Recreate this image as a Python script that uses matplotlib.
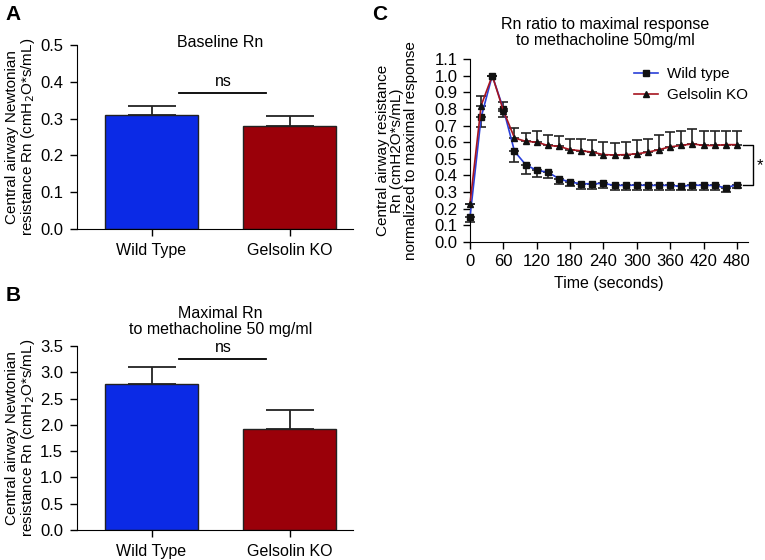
# 気道抵抗の比較図 (A: baseline, B: maximal, C: time course)

import matplotlib.pyplot as plt
import numpy as np

plt.rcParams['font.family'] = ['Liberation Sans', 'DejaVu Sans']
plt.rcParams['font.size'] = 11

groups = ["Wild Type", "Gelsolin KO"]
bar_colors = ["#0b2ae6", "#9a0009"]

# A: baseline Rn
baseline_mean = [0.31, 0.28]
baseline_sem = [0.023, 0.026]

# B: maximal Rn
maximal_mean = [2.77, 1.92]
maximal_sem = [0.33, 0.36]

# C: time course
time_s = [0, 20, 40, 60, 80, 100, 120, 140, 160, 180, 200, 220, 240,
          260, 280, 300, 320, 340, 360, 380, 400, 420, 440, 460, 480]
wt_ratio = [0.15, 0.75, 1.0, 0.80, 0.545, 0.465, 0.43, 0.42, 0.38, 0.36, 0.35, 0.35, 0.352,
            0.34, 0.34, 0.342, 0.34, 0.34, 0.34, 0.335, 0.342, 0.34, 0.34, 0.325, 0.345]
wt_err = [0.03, 0.06, 0.0, 0.05, 0.065, 0.055, 0.04, 0.035, 0.03, 0.025, 0.03, 0.03, 0.03,
          0.025, 0.025, 0.03, 0.03, 0.025, 0.025, 0.025, 0.03, 0.03, 0.025, 0.025, 0.02]
ko_ratio = [0.23, 0.82, 1.0, 0.79, 0.625, 0.605, 0.60, 0.58, 0.575, 0.555, 0.548, 0.54, 0.525,
            0.523, 0.525, 0.53, 0.54, 0.555, 0.572, 0.58, 0.59, 0.58, 0.58, 0.585, 0.585]
ko_err = [0.0, 0.06, 0.0, 0.05, 0.06, 0.05, 0.065, 0.065, 0.06, 0.065, 0.07, 0.075, 0.075,
          0.072, 0.075, 0.08, 0.08, 0.085, 0.09, 0.09, 0.088, 0.088, 0.09, 0.085, 0.08]

rn_label = "Central airway Newtonian\nresistance Rn (cmH$_2$O*s/mL)"


def bar_panel(ax, means, sems, ymax, ystep, ns_y, ns_text_y):
    x = np.arange(len(groups))
    ax.bar(x, means, width=0.67, color=bar_colors, edgecolor="#222222", linewidth=1.0, zorder=2)
    ax.errorbar(x, means, yerr=[np.zeros(len(sems)), sems], fmt="none", ecolor="#222222",
                elinewidth=1.3, capsize=17, capthick=1.3, zorder=1)
    ax.set_xlim(-0.54, 1.46)
    ax.set_ylim(0, ymax)
    ticks = np.arange(0, ymax + ystep / 2, ystep)
    ax.set_yticks(ticks)
    ax.set_yticklabels([f"{v:.1f}" for v in ticks], fontsize=12)
    ax.set_xticks(x)
    ax.set_xticklabels(groups, fontsize=11.5)
    for s in ["top", "right"]:
        ax.spines[s].set_visible(False)
    ax.tick_params(direction="out", length=5, width=1, pad=5)
    ax.plot([0.2, 0.83], [ns_y, ns_y], color="black", lw=1.3, clip_on=False)
    ax.text(0.52, ns_text_y, "ns", ha="center", va="center", fontsize=11.5)
    ax.set_ylabel(rn_label, fontsize=11, linespacing=1.0)
    ax.yaxis.set_label_coords(-0.145, 0.5)


fig = plt.figure(figsize=(7.65, 5.6), dpi=100)

axA = fig.add_axes([0.1007, 0.5911, 0.3608, 0.3286])
bar_panel(axA, baseline_mean, baseline_sem, 0.5, 0.1, 0.37, 0.402)
axA.text(0.52, 1.016, "Baseline Rn", transform=axA.transAxes, ha="center", va="center", fontsize=11.5)

axB = fig.add_axes([0.1007, 0.0536, 0.3608, 0.3286])
bar_panel(axB, maximal_mean, maximal_sem, 3.5, 0.5, 3.25, 3.48)
axB.text(0.52, 1.133, "Maximal Rn\nto methacholine 50 mg/ml", transform=axB.transAxes,
         ha="center", va="center", fontsize=11.5, linespacing=1.05)

# C
axC = fig.add_axes([0.6144, 0.5679, 0.3634, 0.3268])
axC.errorbar(time_s, wt_ratio, yerr=[wt_err, np.zeros(len(wt_err))], fmt="none",
             ecolor="#222222", elinewidth=1.2, capsize=3.5, capthick=1.2, clip_on=False)
axC.errorbar(time_s, ko_ratio, yerr=[np.zeros(len(ko_err)), ko_err], fmt="none",
             ecolor="#222222", elinewidth=1.2, capsize=3.5, capthick=1.2, clip_on=False)
axC.plot(time_s, wt_ratio, color="#2a3fd8", lw=1.2, marker="s", ms=4,
         mfc="#111111", mec="#111111", label="Wild type", clip_on=False, zorder=3)
axC.plot(time_s, ko_ratio, color="#a5141f", lw=1.2, marker="^", ms=4.5,
         mfc="#111111", mec="#111111", label="Gelsolin KO", clip_on=False, zorder=3)
axC.set_xlim(0, 500)
axC.set_ylim(0, 1.1)
axC.set_xticks(np.arange(0, 481, 60))
yt = np.arange(0, 1.11, 0.1)
axC.set_yticks(yt)
axC.set_yticklabels([f"{v:.1f}" for v in yt])
for s in ["top", "right"]:
    axC.spines[s].set_visible(False)
axC.tick_params(direction="out", length=5, width=1, pad=4, labelsize=12)
axC.set_xlabel("Time (seconds)", fontsize=11.5)
axC.xaxis.set_label_coords(0.5, -0.186)
axC.set_ylabel("Central airway resistance\nRn (cmH2O*s/mL)\nnormalized to maximal response",
               fontsize=11, linespacing=1.0)
axC.yaxis.set_label_coords(-0.188, 0.5)
axC.text(0.487, 1.145, "Rn ratio to maximal response\nto methacholine 50mg/ml",
         transform=axC.transAxes, ha="center", va="center", fontsize=11.5, linespacing=1.1)
axC.legend(loc="upper left", bbox_to_anchor=(0.54, 1.03), frameon=False, fontsize=11,
           handlelength=1.6, handletextpad=0.6, labelspacing=0.45)

# 有意差のブラケット
axC.plot([491, 509, 509, 491], [ko_ratio[-1], ko_ratio[-1], wt_ratio[-1], wt_ratio[-1]],
         color="black", lw=1.0, clip_on=False)
axC.text(522, 0.46, "*", ha="center", va="center", fontsize=12)

fig.text(0.007, 0.975, "A", fontsize=15, fontweight="bold", va="center")
fig.text(0.007, 0.473, "B", fontsize=15, fontweight="bold", va="center")
fig.text(0.487, 0.975, "C", fontsize=15, fontweight="bold", va="center")

plt.savefig("out.png", dpi=100)
plt.close()
